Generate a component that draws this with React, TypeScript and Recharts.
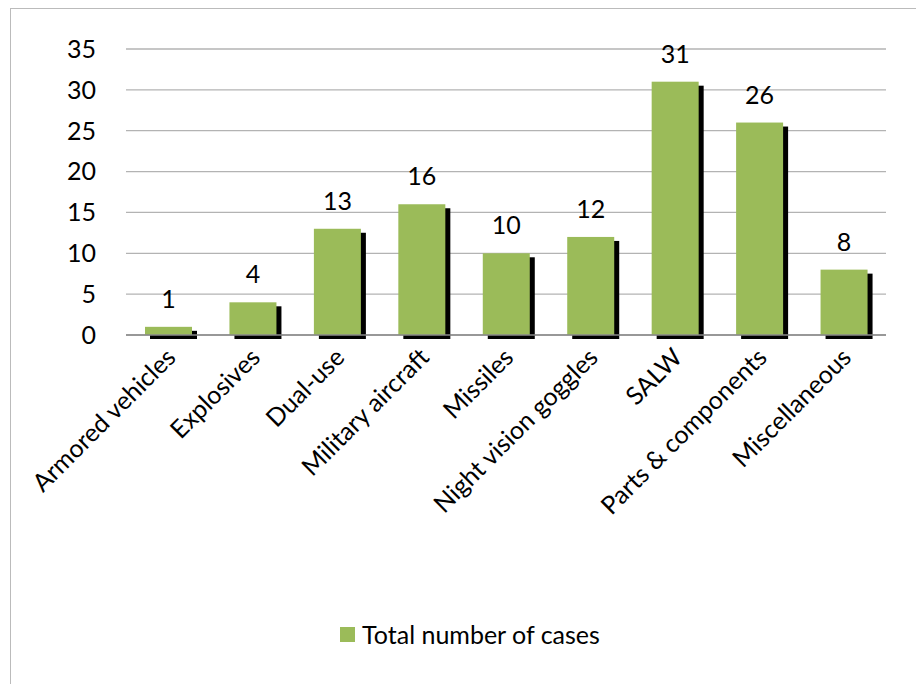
import { Bar, BarChart, CartesianGrid, LabelList, Legend, XAxis, YAxis } from "recharts";

const categories = [
  "Armored vehicles",
  "Explosives",
  "Dual-use",
  "Military aircraft",
  "Missiles",
  "Night vision goggles",
  "SALW",
  "Parts & components",
  "Miscellaneous",
];
const cases = [1, 4, 13, 16, 10, 12, 31, 26, 8];
const yTicks = [0, 5, 10, 15, 20, 25, 30, 35];

const data = categories.map((name, i) => ({ name, cases: cases[i] }));

const GREEN = "#9BBB59";
const FONT = "Lato, 'Noto Sans', sans-serif";
const FS = 25;

const ShadowBar = (props: any) => {
  const { x, y, width, height } = props;
  if (!height) return null;
  return (
    <g>
      <rect x={x + 5} y={y + 4} width={width} height={height} fill="#000" />
      <rect x={x} y={y} width={width} height={height} fill={GREEN} />
    </g>
  );
};

const XTick = (props: any) => {
  const { x, y, payload } = props;
  return (
    <text
      x={x + 9}
      y={y + 16}
      transform={`rotate(-45, ${x + 9}, ${y + 16})`}
      textAnchor="end"
      fontSize={FS}
      fontFamily={FONT}
      fill="#000"
    >
      {payload.value}
    </text>
  );
};

const LegendBox = () => (
  <div
    style={{
      display: "flex",
      justifyContent: "center",
      alignItems: "center",
      height: 40,
      paddingLeft: 54,
      fontFamily: FONT,
      fontSize: FS,
      color: "#000",
    }}
  >
    <span
      style={{ width: 15, height: 15, background: GREEN, marginRight: 7, display: "inline-block" }}
    />
    <span>Total number of cases</span>
  </div>
);

export default function App() {
  return (
    <div style={{ position: "absolute", left: 0, top: 0, width: 916, height: 684, background: "#fff", overflow: "hidden" }}>
      <div
        style={{
          position: "absolute",
          left: 10,
          top: 8,
          width: 1000,
          height: 1000,
          borderLeft: "1.5px solid #BBBBBB",
          borderTop: "1.5px solid #BBBBBB",
        }}
      />
      <div style={{ position: "absolute", left: 0, top: 0 }}>
        <BarChart
          width={916}
          height={684}
          data={data}
          margin={{ top: 49, right: 30, left: 0, bottom: 30 }}
          barSize={47}
        >
          <CartesianGrid vertical={false} stroke="#B3B3B3" strokeWidth={1.3} />
          <XAxis
            dataKey="name"
            interval={0}
            height={279}
            tick={<XTick />}
            tickLine={false}
            axisLine={{ stroke: "#888888", strokeWidth: 1.5 }}
          />
          <YAxis
            domain={[0, 35]}
            ticks={yTicks}
            width={126}
            axisLine={false}
            tickLine={false}
            tickMargin={24}
            tick={{ fontSize: FS, fontFamily: FONT, fill: "#000" }}
          />
          <Legend verticalAlign="bottom" height={40} content={<LegendBox />} />
          <Bar dataKey="cases" shape={<ShadowBar />} isAnimationActive={false}>
            <LabelList
              dataKey="cases"
              position="top"
              offset={19}
              style={{ fontSize: FS, fontFamily: FONT, fill: "#000" }}
            />
          </Bar>
        </BarChart>
      </div>
    </div>
  );
}
